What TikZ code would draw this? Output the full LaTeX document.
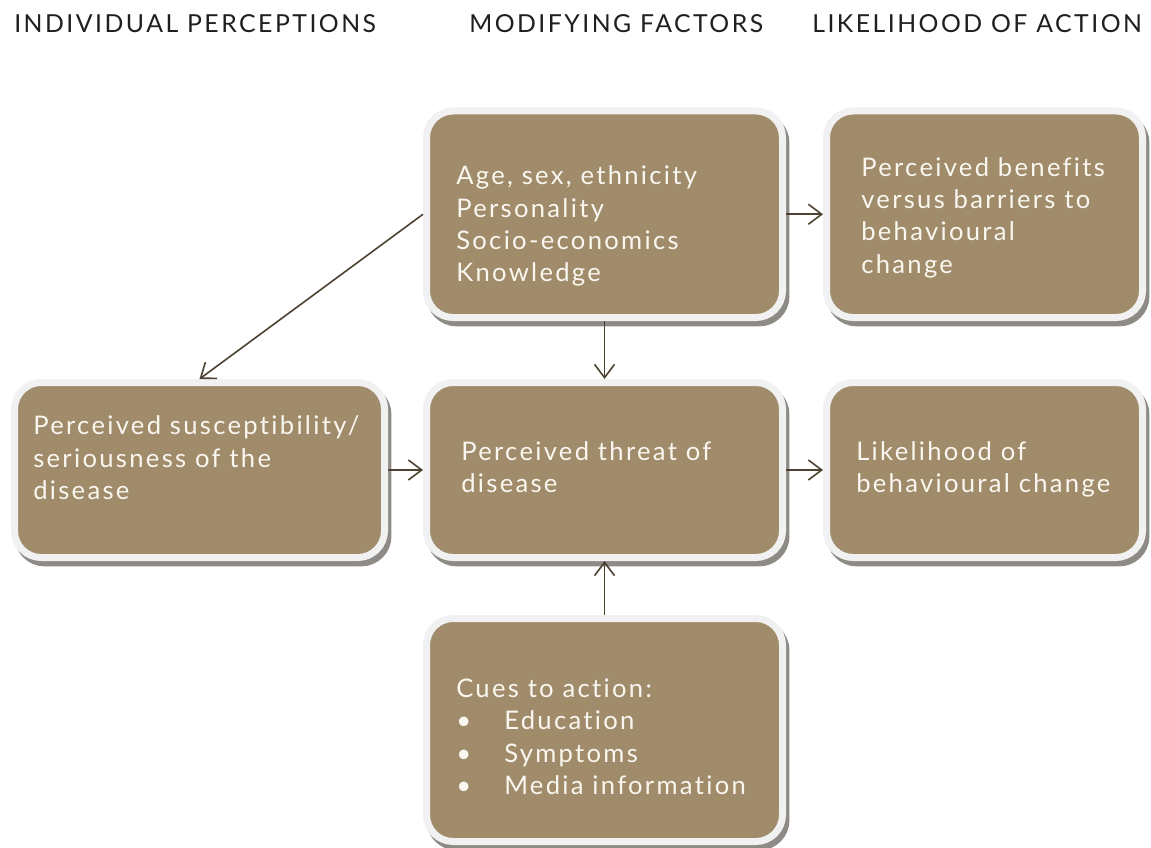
\documentclass[tikz,border=0pt]{standalone}
\usepackage{fontspec}
\setmainfont{Lato}[LetterSpace=9,Ligatures={NoCommon}]
\newfontfamily\headfont{Lato}[LetterSpace=10,Ligatures={NoCommon}]
\usetikzlibrary{shadows,arrows.meta}
\definecolor{brownfill}{HTML}{A08B6A}
\definecolor{borderc}{HTML}{F1F1F1}
\definecolor{shadowc}{HTML}{8E8A86}
\definecolor{arrowc}{HTML}{4D4232}
\definecolor{headc}{HTML}{1F1F1F}
\definecolor{textc}{HTML}{FAF7F0}
\begin{document}
\begin{tikzpicture}[x=0.75pt,y=-0.75pt,
  box/.style={rounded corners=20pt, fill=brownfill, draw=borderc, line width=5.25pt,
    general shadow={fill=shadowc, draw=shadowc, line width=5.25pt, shadow xshift=2.6pt, shadow yshift=-4pt},
    minimum width=#1, inner sep=0pt},
  txt/.style={text=textc, align=left, inner sep=0pt, anchor=base west,
    font=\fontsize{19.2pt}{24.2pt}\selectfont},
  head/.style={text=headc, inner sep=0pt, anchor=base west,
    font=\headfont\fontsize{18.6pt}{22pt}\selectfont},
  conn/.style={draw=arrowc, line width=1.2pt, -{Straight Barb[length=10pt,width=15pt]}}]
\useasboundingbox (0,0) rectangle (1151,848);
% headers
\node[head] (h1) at (14,33) {INDIVIDUAL PERCEPTIONS};
\node[head] (h2) at (469,33) {MODIFYING FACTORS};
\node[head] (h3) at (812,33) {LIKELIHOOD OF ACTION};
% boxes
\node[box=267pt, minimum height=154.9pt] (fac) at (604.5,214.25) {};
\node[box=237pt, minimum height=154.9pt] (ben) at (984.5,214.25) {};
\node[box=277.5pt, minimum height=131.25pt] (sus) at (199.5,470) {};
\node[box=267pt, minimum height=131.25pt] (thr) at (604.5,470) {};
\node[box=237pt, minimum height=131.25pt] (lik) at (984.5,470) {};
\node[box=267pt, minimum height=167.25pt] (cue) at (604.5,730) {};
% texts (anchored at the baseline of their last line)
\node[txt] (tfac) at (456,281.7) {Age, sex, ethnicity\\Personality\\Socio-economics\\Knowledge};
\node[txt] (tben) at (861,273) {Perceived benefits\\versus barriers to\\behavioural\\change};
\node[txt] (tsus) at (33,499.3) {Perceived susceptibility/\\seriousness of the\\disease};
\node[txt] (tthr) at (461,492.7) {Perceived threat of\\disease};
\node[txt] (tlik) at (856,492.7) {Likelihood of\\behavioural change};
\node[txt] (tcue) at (456,794.3) {Cues to action:\\\makebox[36pt][l]{\textbullet}Education\\\makebox[36pt][l]{\textbullet}Symptoms\\\makebox[36pt][l]{\textbullet}Media information};
% connectors
\draw[conn] (fac.east) -- (ben.west);
\draw[conn] (fac.south) -- (thr.north);
\draw[conn] (fac.west) -- (sus.north);
\draw[conn] (sus.east) -- (thr.west);
\draw[conn] (thr.east) -- (lik.west);
\draw[conn] (cue.north) -- (thr.south);
\end{tikzpicture}
\end{document}
